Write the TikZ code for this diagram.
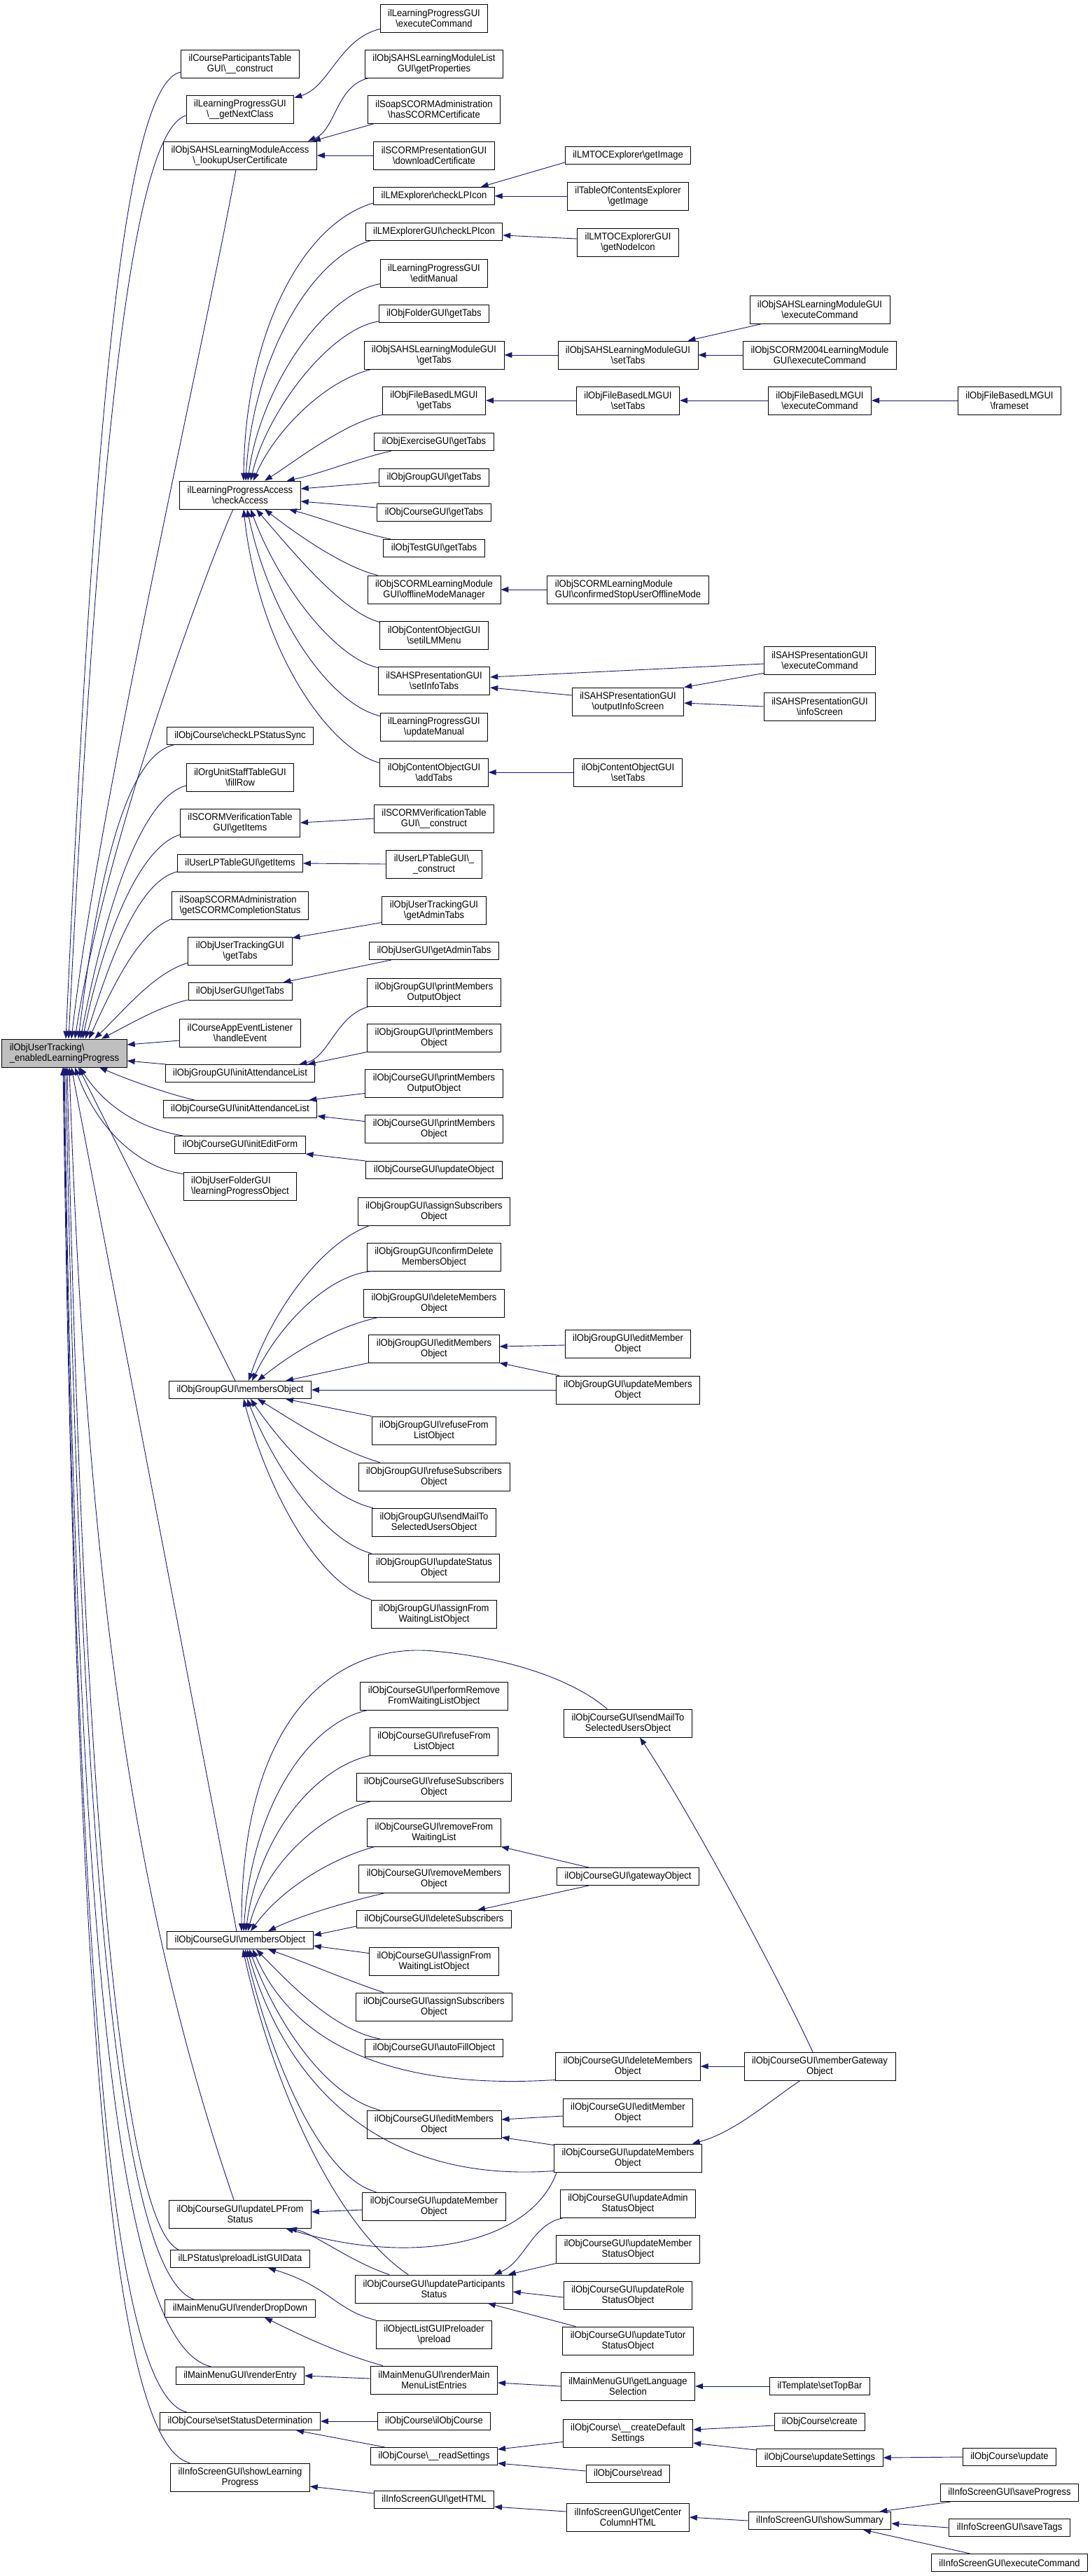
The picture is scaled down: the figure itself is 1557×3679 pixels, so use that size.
\documentclass[tikz,border=0pt]{standalone}
\usepackage{fontspec}
\newfontfamily\nodefont{Liberation Sans}[FakeStretch=0.93]
\usetikzlibrary{arrows.meta}
\definecolor{edgeblue}{RGB}{25,25,112}
\definecolor{rootgray}{RGB}{191,191,191}
\newcommand{\bsl}{\textbackslash}
\tikzset{
  n/.style={draw=black, fill=white, line width=0.9pt, inner xsep=11pt, inner ysep=2pt, minimum height=25pt, font=\nodefont\fontsize{14}{15}\selectfont, align=center, text=black},
  nn/.style={n, minimum height=40pt},
  nl/.style={nn, align=left},
  rootn/.style={nl, fill=rootgray},
  e/.style={draw=edgeblue, line width=0.9pt, >={Triangle[length=11pt,width=8pt]}, <-},
}
\begin{document}
\begin{tikzpicture}[x=1pt, y=-1pt]
\useasboundingbox (0,0) rectangle (1557,3679);
% ---------- root
\node[rootn] (root) at (92,1504) {ilObjUserTracking\bsl\\\_enabledLearningProgress};
% ---------- column B
\node[nn] (b1) at (343,91) {ilCourseParticipantsTable\\GUI\bsl\_\_construct};
\node[nn] (b2) at (343,156) {ilLearningProgressGUI\\\bsl\_\_getNextClass};
\node[nn] (b3) at (343,222) {ilObjSAHSLearningModuleAccess\\\bsl\_lookupUserCertificate};
\node[nn] (b4) at (343,707) {ilLearningProgressAccess\\\bsl checkAccess};
\node[n] (b5) at (343,1051) {ilObjCourse\bsl checkLPStatusSync};
\node[nn] (b6) at (343,1110) {ilOrgUnitStaffTableGUI\\\bsl fillRow};
\node[nn] (b7) at (343,1175) {ilSCORMVerificationTable\\GUI\bsl getItems};
\node[n] (b8) at (343,1233) {ilUserLPTableGUI\bsl getItems};
\node[nl] (b9) at (343,1293) {ilSoapSCORMAdministration\\\bsl getSCORMCompletionStatus};
\node[nn] (b10) at (343,1358) {ilObjUserTrackingGUI\\\bsl getTabs};
\node[n] (b11) at (343,1416) {ilObjUserGUI\bsl getTabs};
\node[nn] (b12) at (343,1475) {ilCourseAppEventListener\\\bsl handleEvent};
\node[n] (b13) at (343,1533) {ilObjGroupGUI\bsl initAttendanceList};
\node[n] (b14) at (343,1584) {ilObjCourseGUI\bsl initAttendanceList};
\node[n] (b15) at (343,1635) {ilObjCourseGUI\bsl initEditForm};
\node[nl] (b16) at (343,1694) {ilObjUserFolderGUI\\\bsl learningProgressObject};
\node[n] (b17) at (343,1985) {ilObjGroupGUI\bsl membersObject};
\node[n] (b18) at (343,2771) {ilObjCourseGUI\bsl membersObject};
\node[nn] (b19) at (343,3162) {ilObjCourseGUI\bsl updateLPFrom\\Status};
\node[n] (b20) at (343,3226) {ilLPStatus\bsl preloadListGUIData};
\node[n] (b21) at (343,3297) {ilMainMenuGUI\bsl renderDropDown};
\node[n] (b22) at (343,3393) {ilMainMenuGUI\bsl renderEntry};
\node[n] (b23) at (343,3458) {ilObjCourse\bsl setStatusDetermination};
\node[nn] (b24) at (343,3538) {ilInfoScreenGUI\bsl showLearning\\Progress};
% ---------- column C
\node[nn] (c1) at (620,26) {ilLearningProgressGUI\\\bsl executeCommand};
\node[nn] (c2) at (620,91) {ilObjSAHSLearningModuleList\\GUI\bsl getProperties};
\node[nn] (c3) at (620,156) {ilSoapSCORMAdministration\\\bsl hasSCORMCertificate};
\node[nn] (c4) at (620,222) {ilSCORMPresentationGUI\\\bsl downloadCertificate};
\node[n] (c5) at (620,280) {ilLMExplorer\bsl checkLPIcon};
\node[n] (c6) at (620,331) {ilLMExplorerGUI\bsl checkLPIcon};
\node[nn] (c7) at (620,390) {ilLearningProgressGUI\\\bsl editManual};
\node[n] (c8) at (620,448) {ilObjFolderGUI\bsl getTabs};
\node[nn] (c9) at (620,507) {ilObjSAHSLearningModuleGUI\\\bsl getTabs};
\node[nn] (c10) at (620,572) {ilObjFileBasedLMGUI\\\bsl getTabs};
\node[n] (c11) at (620,631) {ilObjExerciseGUI\bsl getTabs};
\node[n] (c12) at (620,682) {ilObjGroupGUI\bsl getTabs};
\node[n] (c13) at (620,732) {ilObjCourseGUI\bsl getTabs};
\node[n] (c14) at (620,783) {ilObjTestGUI\bsl getTabs};
\node[nn] (c15) at (620,842) {ilObjSCORMLearningModule\\GUI\bsl offlineModeManager};
\node[nn] (c16) at (620,907) {ilObjContentObjectGUI\\\bsl setilLMMenu};
\node[nn] (c17) at (620,972) {ilSAHSPresentationGUI\\\bsl setInfoTabs};
\node[nn] (c18) at (620,1038) {ilLearningProgressGUI\\\bsl updateManual};
\node[nn] (c19) at (620,1103) {ilObjContentObjectGUI\\\bsl addTabs};
\node[nn] (c20) at (620,1169) {ilSCORMVerificationTable\\GUI\bsl\_\_construct};
\node[nn] (c21) at (620,1234) {ilUserLPTableGUI\bsl\_\\\_construct};
\node[nn] (c22) at (620,1300) {ilObjUserTrackingGUI\\\bsl getAdminTabs};
\node[n] (c23) at (620,1358) {ilObjUserGUI\bsl getAdminTabs};
\node[nn] (c24) at (620,1417) {ilObjGroupGUI\bsl printMembers\\OutputObject};
\node[nn] (c25) at (620,1482) {ilObjGroupGUI\bsl printMembers\\Object};
\node[nn] (c26) at (620,1547) {ilObjCourseGUI\bsl printMembers\\OutputObject};
\node[nn] (c27) at (620,1612) {ilObjCourseGUI\bsl printMembers\\Object};
\node[n] (c28) at (620,1671) {ilObjCourseGUI\bsl updateObject};
\node[nn] (c29) at (620,1730) {ilObjGroupGUI\bsl assignSubscribers\\Object};
\node[nn] (c30) at (620,1795) {ilObjGroupGUI\bsl confirmDelete\\MembersObject};
\node[nn] (c31) at (620,1861) {ilObjGroupGUI\bsl deleteMembers\\Object};
\node[nn] (c32) at (620,1926) {ilObjGroupGUI\bsl editMembers\\Object};
\node[nn] (c33) at (620,2043) {ilObjGroupGUI\bsl refuseFrom\\ListObject};
\node[nn] (c34) at (620,2109) {ilObjGroupGUI\bsl refuseSubscribers\\Object};
\node[nn] (c35) at (620,2174) {ilObjGroupGUI\bsl sendMailTo\\SelectedUsersObject};
\node[nn] (c36) at (620,2239) {ilObjGroupGUI\bsl updateStatus\\Object};
\node[nn] (c37) at (620,2305) {ilObjGroupGUI\bsl assignFrom\\WaitingListObject};
\node[nn] (c38) at (620,2422) {ilObjCourseGUI\bsl performRemove\\FromWaitingListObject};
\node[nn] (c39) at (620,2487) {ilObjCourseGUI\bsl refuseFrom\\ListObject};
\node[nn] (c40) at (620,2552) {ilObjCourseGUI\bsl refuseSubscribers\\Object};
\node[nn] (c41) at (620,2617) {ilObjCourseGUI\bsl removeFrom\\WaitingList};
\node[nn] (c42) at (620,2683) {ilObjCourseGUI\bsl removeMembers\\Object};
\node[n] (c43) at (620,2741) {ilObjCourseGUI\bsl deleteSubscribers};
\node[nn] (c44) at (620,2801) {ilObjCourseGUI\bsl assignFrom\\WaitingListObject};
\node[nn] (c45) at (620,2866) {ilObjCourseGUI\bsl assignSubscribers\\Object};
\node[n] (c46) at (620,2925) {ilObjCourseGUI\bsl autoFillObject};
\node[nn] (c47) at (620,3034) {ilObjCourseGUI\bsl editMembers\\Object};
\node[nn] (c48) at (620,3151) {ilObjCourseGUI\bsl updateMember\\Object};
\node[nn] (c49) at (620,3269) {ilObjCourseGUI\bsl updateParticipants\\Status};
\node[nn] (c50) at (620,3334) {ilObjectListGUIPreloader\\\bsl preload};
\node[nn] (c51) at (620,3399) {ilMainMenuGUI\bsl renderMain\\MenuListEntries};
\node[n] (c52) at (620,3458) {ilObjCourse\bsl ilObjCourse};
\node[n] (c53) at (620,3508) {ilObjCourse\bsl\_\_readSettings};
\node[n] (c54) at (620,3570) {ilInfoScreenGUI\bsl getHTML};
% ---------- column D
\node[n] (d1) at (897,222) {ilLMTOCExplorer\bsl getImage};
\node[nn] (d2) at (897,280) {ilTableOfContentsExplorer\\\bsl getImage};
\node[nn] (d3) at (897,346) {ilLMTOCExplorerGUI\\\bsl getNodeIcon};
\node[nn] (d4) at (897,507) {ilObjSAHSLearningModuleGUI\\\bsl setTabs};
\node[nn] (d5) at (897,572) {ilObjFileBasedLMGUI\\\bsl setTabs};
\node[nl] (d6) at (897,842) {ilObjSCORMLearningModule\\GUI\bsl confirmedStopUserOfflineMode};
\node[nn] (d7) at (897,1002) {ilSAHSPresentationGUI\\\bsl outputInfoScreen};
\node[nn] (d8) at (897,1103) {ilObjContentObjectGUI\\\bsl setTabs};
\node[nn] (d9) at (897,1919) {ilObjGroupGUI\bsl editMember\\Object};
\node[nn] (d10) at (897,1985) {ilObjGroupGUI\bsl updateMembers\\Object};
\node[nn] (d11) at (897,2461) {ilObjCourseGUI\bsl sendMailTo\\SelectedUsersObject};
\node[n] (d12) at (897,2680) {ilObjCourseGUI\bsl gatewayObject};
\node[nn] (d13) at (897,2951) {ilObjCourseGUI\bsl deleteMembers\\Object};
\node[nn] (d14) at (897,3017) {ilObjCourseGUI\bsl editMember\\Object};
\node[nn] (d15) at (897,3082) {ilObjCourseGUI\bsl updateMembers\\Object};
\node[nn] (d16) at (897,3147) {ilObjCourseGUI\bsl updateAdmin\\StatusObject};
\node[nn] (d17) at (897,3212) {ilObjCourseGUI\bsl updateMember\\StatusObject};
\node[nn] (d18) at (897,3278) {ilObjCourseGUI\bsl updateRole\\StatusObject};
\node[nn] (d19) at (897,3343) {ilObjCourseGUI\bsl updateTutor\\StatusObject};
\node[nn] (d20) at (897,3408) {ilMainMenuGUI\bsl getLanguage\\Selection};
\node[nn] (d21) at (897,3475) {ilObjCourse\bsl\_\_createDefault\\Settings};
\node[n] (d22) at (897,3533) {ilObjCourse\bsl read};
\node[nn] (d23) at (897,3595) {ilInfoScreenGUI\bsl getCenter\\ColumnHTML};
% ---------- column E
\node[nn] (e1) at (1171,442) {ilObjSAHSLearningModuleGUI\\\bsl executeCommand};
\node[nn] (e2) at (1171,507) {ilObjSCORM2004LearningModule\\GUI\bsl executeCommand};
\node[nn] (e3) at (1171,572) {ilObjFileBasedLMGUI\\\bsl executeCommand};
\node[nn] (e4) at (1171,943) {ilSAHSPresentationGUI\\\bsl executeCommand};
\node[nn] (e5) at (1171,1009) {ilSAHSPresentationGUI\\\bsl infoScreen};
\node[nn] (e6) at (1171,2951) {ilObjCourseGUI\bsl memberGateway\\Object};
\node[n] (e7) at (1171,3408) {ilTemplate\bsl setTopBar};
\node[n] (e8) at (1171,3459) {ilObjCourse\bsl create};
\node[n] (e9) at (1171,3510) {ilObjCourse\bsl updateSettings};
\node[n] (e10) at (1171,3600) {ilInfoScreenGUI\bsl showSummary};
% ---------- column F
\node[nn] (f1) at (1442,572) {ilObjFileBasedLMGUI\\\bsl frameset};
\node[n] (f2) at (1442,3509) {ilObjCourse\bsl update};
\node[n] (f3) at (1442,3560) {ilInfoScreenGUI\bsl saveProgress};
\node[n] (f4) at (1442,3610) {ilInfoScreenGUI\bsl saveTags};
\node[n] (f5) at (1442,3660) {ilInfoScreenGUI\bsl executeCommand};

% ================= edges into root
\draw[e] ([xshift=2pt]root.north) .. controls (130,700) and (170,120) .. ([yshift=-12pt]b1.west);
\draw[e] ([xshift=6pt]root.north) .. controls (135,750) and (180,190) .. ([yshift=-9pt]b2.west);
\draw[e] ([xshift=10pt]root.north) .. controls (140,1150) and (290,500) .. ([xshift=-6pt]b3.south);
\draw[e] ([xshift=15pt]root.north) .. controls (150,1200) and (300,800) .. ([xshift=-10pt]b4.south);
\draw[e] ([xshift=20pt]root.north) .. controls (140,1250) and (180,1080) .. ([xshift=10pt]b5.south west);
\draw[e] ([xshift=23pt]root.north) .. controls (150,1300) and (200,1140) .. ([yshift=-12pt]b6.west);
\draw[e] ([xshift=26pt]root.north) .. controls (150,1330) and (200,1210) .. ([yshift=-17pt]b7.west);
\draw[e] ([xshift=30pt]root.north) .. controls (160,1360) and (200,1258) .. ([yshift=1pt]b8.south west);
\draw[e] ([xshift=35pt]root.north) .. controls (165,1400) and (200,1330) .. ([yshift=1pt]b9.south west);
\draw[e] ([xshift=43pt]root.north) .. controls (180,1440) and (220,1390) .. ([yshift=-17pt]b10.west);
\draw[e] ([xshift=53pt]root.north) .. controls (190,1460) and (230,1437) .. ([yshift=1pt]b11.south west);
\draw[e] ([yshift=12pt]root.east) -- ([yshift=-11pt]b12.west);
\draw[e] ([yshift=-11pt]root.east) -- ([xshift=2pt]b13.north west);
\draw[e] ([xshift=50pt]root.south) .. controls (190,1545) and (240,1562) .. ([xshift=45pt]b14.north west);
\draw[e] ([xshift=22pt]root.south) .. controls (150,1580) and (200,1612) .. ([xshift=12pt]b15.north west);
\draw[e] ([xshift=15pt]root.south) .. controls (140,1615) and (200,1668) .. ([yshift=-3pt]b16.north west);
\draw[e] ([xshift=20pt]root.south) -- ([xshift=-7pt]b17.north);
\draw[e] ([xshift=10pt]root.south) -- ([xshift=-5pt]b18.north);
\draw[e] ([xshift=7pt]root.south) .. controls (125,2300) and (200,2750) .. ([xshift=-9pt]b19.north);
\draw[e] ([xshift=4pt]root.south) .. controls (120,2650) and (180,3180) .. ([xshift=12pt]b20.north west);
\draw[e] ([xshift=2pt]root.south) .. controls (115,2700) and (175,3250) .. ([xshift=42pt]b21.north west);
\draw[e] ([xshift=0pt]root.south) .. controls (110,2800) and (170,3350) .. ([xshift=51pt]b22.north west);
\draw[e] ([xshift=-1pt]root.south) .. controls (110,2850) and (160,3420) .. ([xshift=39pt]b23.north west);
\draw[e] ([xshift=-2pt]root.south) .. controls (110,2900) and (160,3490) .. ([xshift=28pt]b24.north west);

% ================= top part
\draw[e] ([yshift=-4pt]b2.north east) .. controls (470,125) and (485,55) .. ([yshift=5pt]c1.south west);
\draw[e] ([xshift=-13pt]b3.north east) .. controls (480,185) and (480,122) .. ([xshift=6pt]c2.south west);
\draw[e] ([xshift=-6pt]b3.north east) -- ([xshift=10pt]c3.south west);
\draw[e] (b3.east) -- (c4.west);
% checkAccess
\draw[e] ([xshift=5pt]b4.north) .. controls (350,480) and (430,320) .. ([yshift=3pt]c5.south west);
\draw[e] ([xshift=8pt]b4.north) .. controls (360,520) and (440,370) .. ([xshift=7pt]c6.south west);
\draw[e] ([xshift=11pt]b4.north) .. controls (370,560) and (460,420) .. ([yshift=5pt]c7.south west);
\draw[e] ([xshift=15pt]b4.north) .. controls (380,590) and (470,470) .. ([yshift=2pt]c8.south west);
\draw[e] ([xshift=19pt]b4.north) .. controls (390,620) and (460,545) .. ([xshift=11pt]c9.south west);
\draw[e] ([xshift=35pt]b4.north) .. controls (420,660) and (490,605) .. (c10.south west);
\draw[e] ([xshift=-20pt]b4.north east) .. controls (460,676) and (510,655) .. ([xshift=25pt]c11.south west);
\draw[e] ([yshift=9pt]b4.east) -- ([yshift=-7pt]c12.west);
\draw[e] ([yshift=-9pt]b4.east) -- ([yshift=7pt]c13.west);
\draw[e] ([xshift=-17pt]b4.south east) .. controls (460,740) and (510,760) .. ([xshift=11pt]c14.north west);
\draw[e] ([xshift=35pt]b4.south) .. controls (420,760) and (490,810) .. ([xshift=15pt]c15.north west);
\draw[e] ([xshift=23pt]b4.south) .. controls (420,790) and (490,875) .. ([yshift=-2pt]c16.north west);
\draw[e] ([xshift=15pt]b4.south) .. controls (400,840) and (480,940) .. ([yshift=-2pt]c17.north west);
\draw[e] ([xshift=10pt]b4.south) .. controls (385,880) and (470,1005) .. ([yshift=-5pt]c18.north west);
\draw[e] ([xshift=5pt]b4.south) .. controls (370,930) and (470,1070) .. ([yshift=-7pt]c19.north west);
\draw[e] ([xshift=-20pt]c5.north east) -- ([yshift=3pt]d1.south west);
\draw[e] (c5.east) -- (d2.west);
\draw[e] ([yshift=-5pt]c6.east) -- ([yshift=5pt]d3.west);
\draw[e] (c9.east) -- (d4.west);
\draw[e] (c10.east) -- (d5.west);
\draw[e] (c15.east) -- (d6.west);
\draw[e] ([yshift=5pt]c17.east) -- ([yshift=-5pt]e4.west);
\draw[e] ([yshift=-10pt]c17.east) -- ([yshift=9pt]d7.west);
\draw[e] (c19.east) -- (d8.west);
\draw[e] ([xshift=-15pt]d4.north east) -- ([xshift=18pt]e1.south west);
\draw[e] (d4.east) -- (e2.west);
\draw[e] (d5.east) -- (e3.west);
\draw[e] (e3.east) -- (f1.west);
\draw[e] (d7.north east) -- ([yshift=2pt]e4.south west);
\draw[e] ([yshift=-2pt]d7.east) -- (e5.west);
% middle
\draw[e] (b7.east) -- (c20.west);
\draw[e] (b8.east) -- (c21.west);
\draw[e] ([yshift=-2pt]b10.north east) -- ([yshift=3pt]c22.south west);
\draw[e] ([xshift=-13pt]b11.north east) -- ([xshift=32pt]c23.south west);
\draw[e] ([xshift=-23pt]b13.north east) .. controls (470,1510) and (480,1450) .. ([xshift=3pt]c24.south west);
\draw[e] ([xshift=-11pt]b13.north east) -- (c25.south west);
\draw[e] ([xshift=-12pt]b14.north east) -- ([yshift=6pt]c26.south west);
\draw[e] ([yshift=3pt]b14.south east) -- ([yshift=-10pt]c27.north west);
\draw[e] (b15.south east) -- (c28.north west);
% group membersObject
\draw[e] ([xshift=12pt]b17.north) .. controls (390,1870) and (460,1775) .. ([xshift=17pt]c29.south west);
\draw[e] ([xshift=17pt]b17.north) .. controls (400,1890) and (470,1820) .. ([xshift=8pt]c30.south west);
\draw[e] ([xshift=25pt]b17.north) .. controls (420,1930) and (480,1895) .. ([xshift=21pt]c31.south west);
\draw[e] ([xshift=65pt]b17.north) -- (c32.south west);
\draw[e] (b17.east) -- (d10.west);
\draw[e] ([xshift=65pt]b17.south) -- (c33.north west);
\draw[e] ([xshift=25pt]b17.south) .. controls (420,2030) and (480,2070) .. ([xshift=31pt]c34.north west);
\draw[e] ([xshift=15pt]b17.south) .. controls (400,2060) and (470,2140) .. ([xshift=2pt]c35.north west);
\draw[e] ([xshift=10pt]b17.south) .. controls (390,2090) and (460,2200) .. ([xshift=5pt]c36.north west);
\draw[e] ([xshift=5pt]b17.south) .. controls (380,2120) and (450,2260) .. (c37.north west);
\draw[e] ([yshift=3pt]c32.east) -- ([yshift=-2pt]d9.west);
\draw[e] (c32.south east) -- ([xshift=5pt]d10.north west);
% course membersObject
\draw[e] ([xshift=2pt]b18.north) .. controls (345,2450) and (480,2345) .. (620,2358) .. controls (730,2368) and (820,2400) .. ([xshift=62pt]d11.north west);
\draw[e] ([xshift=5pt]b18.north) .. controls (360,2580) and (440,2460) .. ([xshift=11pt]c38.south west);
\draw[e] ([xshift=8pt]b18.north) .. controls (370,2620) and (450,2525) .. (c39.south west);
\draw[e] ([xshift=11pt]b18.north) .. controls (380,2660) and (460,2590) .. ([xshift=22pt]c40.south west);
\draw[e] ([xshift=15pt]b18.north) .. controls (400,2700) and (470,2655) .. ([xshift=11pt]c41.south west);
\draw[e] ([xshift=40pt]b18.north) .. controls (430,2735) and (500,2715) .. ([xshift=38pt]c42.south west);
\draw[e] ([yshift=7pt]b18.east) -- ([yshift=3pt]c43.south west);
\draw[e] ([yshift=-8pt]b18.east) -- ([yshift=-9pt]c44.north west);
\draw[e] ([xshift=40pt]b18.south) .. controls (430,2800) and (500,2830) .. ([xshift=40pt]c45.north west);
\draw[e] ([xshift=23pt]b18.south) .. controls (420,2840) and (480,2900) .. ([xshift=22pt]c46.north west);
\draw[e] ([xshift=18pt]b18.south) .. controls (420,2920) and (560,2985) .. ([yshift=1pt]d13.south west);
\draw[e] ([xshift=13pt]b18.south) .. controls (400,2900) and (470,2995) .. ([xshift=19pt]c47.north west);
\draw[e] ([xshift=10pt]b18.south) .. controls (400,2950) and (520,3120) .. ([yshift=2pt]d15.south west);
\draw[e] ([xshift=7pt]b18.south) .. controls (390,2950) and (460,3110) .. ([xshift=20pt]c48.north west);
\draw[e] ([xshift=4pt]b18.south) .. controls (390,2980) and (480,3180) .. ([xshift=76pt]c49.north west);
\draw[e] (c41.south east) -- ([xshift=46pt]d12.north west);
\draw[e] ([xshift=-49pt]c43.north east) -- ([xshift=46pt]d12.south west);
\draw[e] ([xshift=17pt]d11.south) .. controls (980,2580) and (1100,2800) .. ([xshift=-10pt]e6.north);
\draw[e] (d13.east) -- (e6.west);
\draw[e] ([xshift=-14pt]d15.north east) .. controls (1050,3045) and (1100,3000) .. ([xshift=-28pt]e6.south);
\draw[e] ([yshift=7pt]c47.east) -- ([yshift=-5pt]d14.west);
\draw[e] ([yshift=2pt]c47.south east) -- ([yshift=-2pt]d15.north west);
% updateLPFromStatus
\draw[e] ([yshift=3pt]b19.east) -- ([yshift=-5pt]c48.west);
\draw[e] ([xshift=70pt]b19.south) .. controls (450,3190) and (500,3230) .. ([xshift=49pt]c49.north west);
\draw[e] ([xshift=65pt]b19.south) .. controls (600,3240) and (760,3200) .. ([xshift=4pt]d15.south west);
% updateParticipantsStatus
\draw[e] ([xshift=-27pt]c49.north east) .. controls (750,3230) and (760,3175) .. ([xshift=6pt]d16.south west);
\draw[e] ([xshift=-7pt]c49.north east) -- (d17.south west);
\draw[e] ([yshift=-4pt]c49.east) -- ([yshift=-3pt]d18.west);
\draw[e] ([xshift=-36pt]c49.south east) -- ([xshift=19pt]d19.north west);
% bottom
\draw[e] ([xshift=40pt]b20.south) .. controls (470,3265) and (480,3300) .. (c50.north west);
\draw[e] ([xshift=35pt]b21.south) .. controls (430,3335) and (480,3360) .. ([xshift=18pt]c51.north west);
\draw[e] (b22.east) -- ([yshift=2pt]c51.west);
\draw[e] ([yshift=-4pt]c51.east) -- (d20.west);
\draw[e] (d20.east) -- (e7.west);
\draw[e] (b23.east) -- (c52.west);
\draw[e] ([xshift=80pt]b23.south) -- ([xshift=21pt]c53.north west);
\draw[e] ([yshift=-3pt]c53.north east) -- ([yshift=8pt]d21.south west);
\draw[e] ([yshift=3pt]c53.south east) -- ([yshift=4pt]d22.west);
\draw[e] ([yshift=5pt]d21.east) -- ([yshift=-5pt]e8.west);
\draw[e] ([yshift=-14pt]d21.east) -- ([yshift=-2pt]e9.north west);
\draw[e] (e9.east) -- (f2.west);
\draw[e] ([yshift=-13pt]b24.east) -- ([yshift=-4pt]c54.north west);
\draw[e] ([yshift=-10pt]c54.east) -- ([yshift=8pt]d23.west);
\draw[e] (d23.east) -- (e10.west);
\draw[e] ([xshift=-17pt]e10.north east) -- ([xshift=15pt]f3.south west);
\draw[e] ([yshift=-4pt]e10.east) -- (f4.west);
\draw[e] ([xshift=62pt]e10.south) -- ([xshift=56pt]f5.north west);
\end{tikzpicture}
\end{document}
